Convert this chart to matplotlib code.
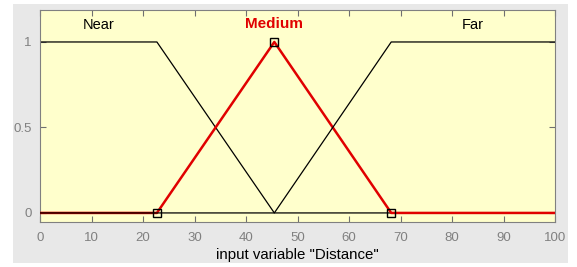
import numpy as np
import matplotlib
matplotlib.use('Agg')
import matplotlib.pyplot as plt
from matplotlib.patches import Rectangle

#### DATA ####
x_range = [0, 100]
near_x = [0, 22.7, 45.5, 100]
near_y = [1, 1, 0, 0]
medium_x = [0, 22.7, 45.5, 68.2, 100]
medium_y = [0, 0, 1, 0, 0]
far_x = [0, 45.5, 68.2, 100]
far_y = [0, 0, 1, 1]
medium_params = [22.7, 45.5, 68.2]
medium_param_y = [0, 1, 0]
labels = ['Near', 'Medium', 'Far']
label_x = [11.3, 45.5, 84.0]
xticks = list(range(0, 101, 10))
yticks = [0, 0.5, 1]
xlabel = 'input variable "Distance"'

plt.rcParams['font.family'] = ['Liberation Sans', 'DejaVu Sans']

fig = plt.figure(figsize=(5.77, 2.67), dpi=100)
fig.patch.set_facecolor('white')
# gray panel behind the axes
fig.patches.append(Rectangle((13/577, 1-263/267), 555/577, 259/267,
                             transform=fig.transFigure, facecolor='#e8e8e8',
                             edgecolor='none', zorder=-1))

ax = fig.add_axes([40/577, 1-222/267, 515/577, 212/267])
ax.set_facecolor('#ffffcc')

ax.plot(near_x, near_y, color='black', lw=0.9, zorder=2)
ax.plot(medium_x, medium_y, color='#e00000', lw=1.8, zorder=3)
ax.plot(far_x, far_y, color='black', lw=0.9, zorder=4)
ax.plot(medium_params, medium_param_y, ls='none', marker='s', ms=5.5,
        mfc='none', mec='black', mew=1.0, zorder=5)

for name, lx in zip(labels, label_x):
    if name == 'Medium':
        ax.text(lx, 1.103, name, color='#e00000', fontweight='bold',
                fontsize=11, ha='center', va='center')
    else:
        ax.text(lx, 1.1, name, color='black', fontsize=10.5,
                ha='center', va='center')

ax.set_xlim(x_range)
ax.set_ylim(-0.053, 1.187)
ax.set_xticks(xticks)
ax.set_yticks(yticks)
ax.set_yticklabels(['0', '0.5', '1'])
ax.tick_params(direction='in', length=4, width=0.8, color='#707070',
               labelcolor='#808080', labelsize=9.5, top=True, right=True)
ax.tick_params(axis='x', pad=7)
ax.tick_params(axis='y', pad=6)
for s in ax.spines.values():
    s.set_color('#808080')
    s.set_linewidth(0.8)
ax.set_xlabel(xlabel, fontsize=10.8, color='black', labelpad=3)

plt.savefig('out.png', dpi=100)
